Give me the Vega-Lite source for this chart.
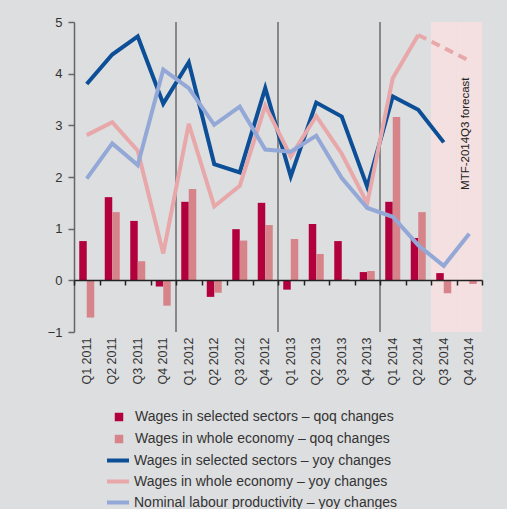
{
  "$schema": "https://vega.github.io/schema/vega-lite/v6.json",
  "width": 408,
  "height": 310,
  "autosize": "none",
  "padding": {"left": 74, "top": 22, "right": 25, "bottom": 177},
  "background": "#dddee0",
  "config": {"view": {"stroke": null}, "font": "Liberation Sans"},
  "datasets": {
    "main": [
      {"i": 1, "q": "Q1 2011", "sq": 0.76, "wq": -0.72, "sy": 3.80, "wy": 2.81, "py": 1.97},
      {"i": 2, "q": "Q2 2011", "sq": 1.61, "wq": 1.32, "sy": 4.37, "wy": 3.06, "py": 2.65},
      {"i": 3, "q": "Q3 2011", "sq": 1.15, "wq": 0.37, "sy": 4.72, "wy": 2.51, "py": 2.23},
      {"i": 4, "q": "Q4 2011", "sq": -0.12, "wq": -0.49, "sy": 3.42, "wy": 0.52, "py": 4.08},
      {"i": 5, "q": "Q1 2012", "sq": 1.52, "wq": 1.77, "sy": 4.22, "wy": 3.03, "py": 3.72},
      {"i": 6, "q": "Q2 2012", "sq": -0.32, "wq": -0.24, "sy": 2.25, "wy": 1.43, "py": 3.01},
      {"i": 7, "q": "Q3 2012", "sq": 0.99, "wq": 0.77, "sy": 2.09, "wy": 1.83, "py": 3.36},
      {"i": 8, "q": "Q4 2012", "sq": 1.50, "wq": 1.07, "sy": 3.72, "wy": 3.38, "py": 2.53},
      {"i": 9, "q": "Q1 2013", "sq": -0.18, "wq": 0.80, "sy": 2.01, "wy": 2.40, "py": 2.49},
      {"i": 10, "q": "Q2 2013", "sq": 1.09, "wq": 0.51, "sy": 3.44, "wy": 3.18, "py": 2.80},
      {"i": 11, "q": "Q3 2013", "sq": 0.76, "wq": 0.02, "sy": 3.17, "wy": 2.45, "py": 1.98},
      {"i": 12, "q": "Q4 2013", "sq": 0.16, "wq": 0.18, "sy": 1.81, "wy": 1.49, "py": 1.40},
      {"i": 13, "q": "Q1 2014", "sq": 1.52, "wq": 3.16, "sy": 3.56, "wy": 3.91, "py": 1.23},
      {"i": 14, "q": "Q2 2014", "sq": 0.82, "wq": 1.32, "sy": 3.30, "wy": 4.75, "py": 0.68},
      {"i": 15, "q": "Q3 2014", "sq": 0.14, "wq": -0.25, "sy": 2.67, "wy": null, "py": 0.28},
      {"i": 16, "q": "Q4 2014", "sq": null, "wq": -0.07, "sy": null, "wy": null, "py": 0.90}
    ],
    "forecast": [
      {"i": 14, "q": "Q2 2014", "v": 4.75},
      {"i": 15, "q": "Q3 2014", "v": 4.50},
      {"i": 16, "q": "Q4 2014", "v": 4.25}
    ],
    "shade": [{"q": "Q3 2014"}, {"q": "Q4 2014"}],
    "years": [{"q": "Q1 2012"}, {"q": "Q1 2013"}, {"q": "Q1 2014"}],
    "note": [{"q": "Q4 2014", "t": "MTF-2014Q3 forecast"}]
  },
  "resolve": {"axis": {"x": "independent"}},
  "layer": [
    {
      "data": {"name": "shade"},
      "mark": {"type": "rect", "color": "#f4e0e0"},
      "encoding": {
        "x": {
          "field": "q", "type": "ordinal",
          "scale": {"domain": ["Q1 2011","Q2 2011","Q3 2011","Q4 2011","Q1 2012","Q2 2012","Q3 2012","Q4 2012","Q1 2013","Q2 2013","Q3 2013","Q4 2013","Q1 2014","Q2 2014","Q3 2014","Q4 2014"], "paddingInner": 0, "paddingOuter": 0},
          "axis": {"orient": "bottom", "offset": -52, "labels": false, "title": null, "domain": true, "domainColor": "#222222", "domainWidth": 1.5, "ticks": true, "tickBand": "extent", "tickColor": "#222222", "tickWidth": 1.5, "tickSize": 5, "grid": false, "zindex": 1}
        },
        "y": {"datum": -1, "type": "quantitative", "scale": {"domain": [-1, 5], "nice": false}},
        "y2": {"datum": 5}
      }
    },
    {
      "data": {"name": "years"},
      "mark": {"type": "rule", "color": "#333333", "strokeWidth": 1},
      "encoding": {
        "x": {"field": "q", "type": "ordinal", "bandPosition": 0, "axis": null},
        "y": {"datum": -1, "type": "quantitative"},
        "y2": {"datum": 5}
      }
    },
    {
      "data": {"name": "main"},
      "transform": [{"fold": ["sq", "wq"], "as": ["s", "v"]}],
      "mark": {"type": "bar"},
      "encoding": {
        "x": {
          "field": "q", "type": "ordinal",
          "axis": {"orient": "bottom", "title": null, "domain": false, "ticks": false, "labelAngle": 270, "labelAlign": "right", "labelBaseline": "middle", "labelPadding": 5, "labelFontSize": 12.5, "labelColor": "#333333", "grid": false}
        },
        "xOffset": {"field": "s", "type": "nominal", "scale": {"domain": ["sq", "wq"], "paddingInner": 0, "paddingOuter": 0.7}},
        "y": {
          "field": "v", "type": "quantitative",
          "axis": {"title": null, "values": [-1, 0, 1, 2, 3, 4, 5], "grid": false, "domainColor": "#666666", "domainWidth": 1.5, "tickColor": "#666666", "tickWidth": 1.5, "tickSize": 6, "labelPadding": 6, "labelFontSize": 13, "labelColor": "#333333"}
        },
        "fill": {
          "field": "s", "type": "nominal",
          "scale": {"domain": ["sq", "wq"], "range": ["#b2003d", "#d6838a"]},
          "legend": {"orient": "none", "legendX": 38, "legendY": 388, "title": null, "symbolType": "square", "symbolSize": 72, "symbolStrokeWidth": 0, "labelFontSize": 14, "labelColor": "#333333", "labelLimit": 400, "rowPadding": 8, "labelOffset": 9, "padding": 0,
            "labelExpr": "datum.label == 'sq' ? 'Wages in selected sectors – qoq changes' : 'Wages in whole economy – qoq changes'"}
        }
      }
    },
    {
      "data": {"name": "main"},
      "transform": [{"fold": ["sy", "wy", "py"], "as": ["s", "v"]}],
      "mark": {"type": "line", "strokeWidth": 4},
      "encoding": {
        "x": {"field": "q", "type": "ordinal", "axis": null},
        "y": {"field": "v", "type": "quantitative"},
        "stroke": {
          "field": "s", "type": "nominal",
          "scale": {"domain": ["sy", "wy", "py"], "range": ["#0c4f97", "#e8a7a9", "#93a8d6"]},
          "legend": {"orient": "none", "legendX": 31, "legendY": 425.5, "title": null, "symbolType": "stroke", "symbolSize": 484, "symbolStrokeWidth": 4, "labelFontSize": 14, "labelColor": "#333333", "labelLimit": 400, "rowPadding": 0, "labelOffset": 3, "padding": 0,
            "labelExpr": "datum.label == 'sy' ? 'Wages in selected sectors – yoy changes' : datum.label == 'wy' ? 'Wages in whole economy – yoy changes' : 'Nominal labour productivity – yoy changes'"}
        },
        "order": {"field": "i", "type": "quantitative"}
      }
    },
    {
      "data": {"name": "forecast"},
      "mark": {"type": "line", "strokeWidth": 4, "color": "#e8a7a9", "strokeDash": [9, 6]},
      "encoding": {
        "x": {"field": "q", "type": "ordinal", "axis": null},
        "y": {"field": "v", "type": "quantitative"},
        "order": {"field": "i", "type": "quantitative"}
      }
    },
    {
      "data": {"name": "note"},
      "mark": {"type": "text", "angle": 270, "align": "left", "baseline": "middle", "fontSize": 11.5, "color": "#222222", "xOffset": -3},
      "encoding": {
        "x": {"field": "q", "type": "ordinal", "axis": null},
        "y": {"datum": 1.75, "type": "quantitative"},
        "text": {"field": "t"}
      }
    }
  ]
}
